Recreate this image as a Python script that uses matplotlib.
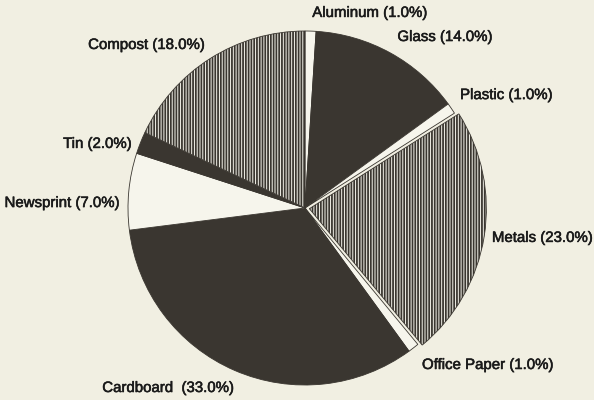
import matplotlib.pyplot as plt
import matplotlib.patheffects as pe

# slice data, clockwise from the top
materials = ['Aluminum', 'Glass', 'Plastic', 'Metals', 'Office Paper',
             'Cardboard', 'Newsprint', 'Tin', 'Compost']
shares = [1.0, 14.0, 1.0, 23.0, 1.0, 33.0, 7.0, 2.0, 18.0]
fills = ['light', 'dark', 'light', 'hatch', 'light',
         'dark', 'light', 'dark', 'hatch']

bg = '#f1efe2'
dark = '#3a3630'
plt.rcParams['hatch.linewidth'] = 1.3
plt.rcParams['hatch.color'] = dark

fig = plt.figure(figsize=(5.94, 4.0), dpi=100, facecolor=bg)
ax = fig.add_axes([0, 0, 1, 1])
ax.set_facecolor(bg)

explode = [0.025 if m == 'Metals' else 0 for m in materials]
wedges, _ = ax.pie(shares, startangle=90, counterclock=False, explode=explode,
                   wedgeprops=dict(linewidth=0.6, edgecolor=dark))
for w, f in zip(wedges, fills):
    if f == 'dark':
        w.set_facecolor(dark)
    else:
        w.set_facecolor('#f6f5ec')
        if f == 'hatch':
            w.set_hatch('||||||')

# label layout (x, y, ha) in pie units
label_pos = [(0.367, 1.102, 'center'), (0.791, 0.966, 'center'), (0.876, 0.638, 'left'),
             (1.056, -0.169, 'left'), (0.661, -0.887, 'left'), (-0.774, -1.017, 'center'),
             (-1.045, 0.028, 'right'), (-0.977, 0.362, 'right'), (-0.565, 0.921, 'right')]
for m, s, (x, y, ha) in zip(materials, shares, label_pos):
    sep = '  ' if m == 'Cardboard' else ' '
    ax.text(x, y, f'{m}{sep}({s:.1f}%)', ha=ha, va='center', fontsize=10.8,
            family='Liberation Sans', color='#1a1a1a',
            path_effects=[pe.withStroke(linewidth=0.4, foreground='#1a1a1a')])

ax.set_xlim(-305 / 177, 289 / 177)
ax.set_ylim(-192 / 177, 208 / 177)
ax.set_aspect('equal')
ax.axis('off')

fig.savefig('out.png', dpi=100, facecolor=bg)
